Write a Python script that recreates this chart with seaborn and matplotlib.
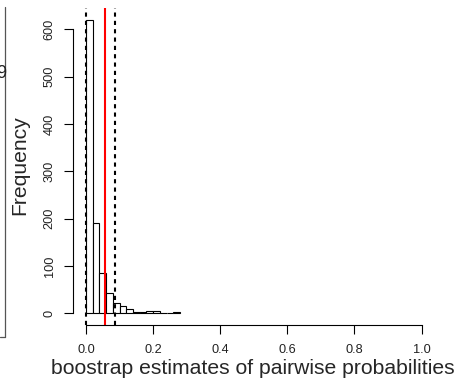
import numpy as np
import pandas as pd
import matplotlib
matplotlib.use("Agg")
import matplotlib.pyplot as plt
from matplotlib.lines import Line2D
import seaborn as sns

# ---- data ----
bin_edges = np.round(np.arange(0.0, 0.2801, 0.02), 2)
bin_counts = [620, 190, 85, 43, 21, 16, 8, 3, 3, 4, 4, 0, 1, 2]
ci_lower = 0.0
ci_upper = 0.0855
point_estimate = 0.058
x_ticks = [0.0, 0.2, 0.4, 0.6, 0.8, 1.0]
x_tick_labels = ["0.0", "0.2", "0.4", "0.6", "0.8", "1.0"]
y_ticks = [0, 100, 200, 300, 400, 500, 600]
x_label = "boostrap estimates of pairwise probabilities"
y_label = "Frequency"

df = pd.DataFrame({
    "center": (bin_edges[:-1] + bin_edges[1:]) / 2,
    "count": bin_counts,
})

sns.set_style("ticks")
plt.rcParams["font.family"] = ["Liberation Sans", "DejaVu Sans"]

W, H = 459, 387
fig = plt.figure(figsize=(W / 100, H / 100), dpi=100)
left, right, top, bottom = 72.6, 435.0, 8.3, 325.0
ax = fig.add_axes([left / W, 1 - bottom / H, (right - left) / W, (bottom - top) / H])

sns.histplot(data=df, x="center", weights="count", bins=list(bin_edges), ax=ax,
             color="white", edgecolor="black", linewidth=0.8, alpha=1)

ax.axvline(ci_lower, color="black", lw=1.5, linestyle=(0, (2, 2)))
ax.axvline(ci_upper, color="black", lw=1.5, linestyle=(0, (2, 2)))
ax.axvline(point_estimate, color="#ff0000", lw=1.5)

ax.set_xlim(-0.04, 1.04)
ax.set_ylim(-24.8, 644.8)

for s in ["top", "right"]:
    ax.spines[s].set_visible(False)
ax.spines["left"].set_bounds(0, 600)
ax.spines["bottom"].set_bounds(0, 1)
for s in ["left", "bottom"]:
    ax.spines[s].set_linewidth(0.8)
    ax.spines[s].set_color("black")

ax.set_xticks(x_ticks)
ax.set_xticklabels(x_tick_labels)
ax.set_yticks(y_ticks)
ax.tick_params(axis="both", direction="out", length=6.2, width=0.8, color="black",
               labelsize=9.2, labelcolor="#222222")
ax.tick_params(axis="x", pad=7.5)
ax.tick_params(axis="y", pad=6.0, labelrotation=90)
for lab in ax.get_yticklabels():
    lab.set_va("center")

ax.set_xlabel(x_label, fontsize=15.2)
ax.set_ylabel(y_label, fontsize=15.2)
ax.xaxis.label.set_va("center")
ax.yaxis.label.set_va("center")
ax.xaxis.set_label_coords((253 - left) / (right - left), (bottom - 368) / (bottom - top))
ax.yaxis.set_label_coords((20 - left) / (right - left), (bottom - 165) / (bottom - top))
ax.grid(False)

# fragment of a neighbouring panel cut off at the left edge
fig.add_artist(Line2D([5 / W, 5 / W], [1 - 7 / H, 1 - 337 / H], color="#555555", lw=0.9))
fig.add_artist(Line2D([0, 5 / W], [1 - 337 / H, 1 - 337 / H], color="#555555", lw=0.9))
fig.text(6 / W, 1 - 73 / H, "9", fontsize=13, ha="right", va="center", color="#222222")

fig.savefig("out.png", dpi=100)
